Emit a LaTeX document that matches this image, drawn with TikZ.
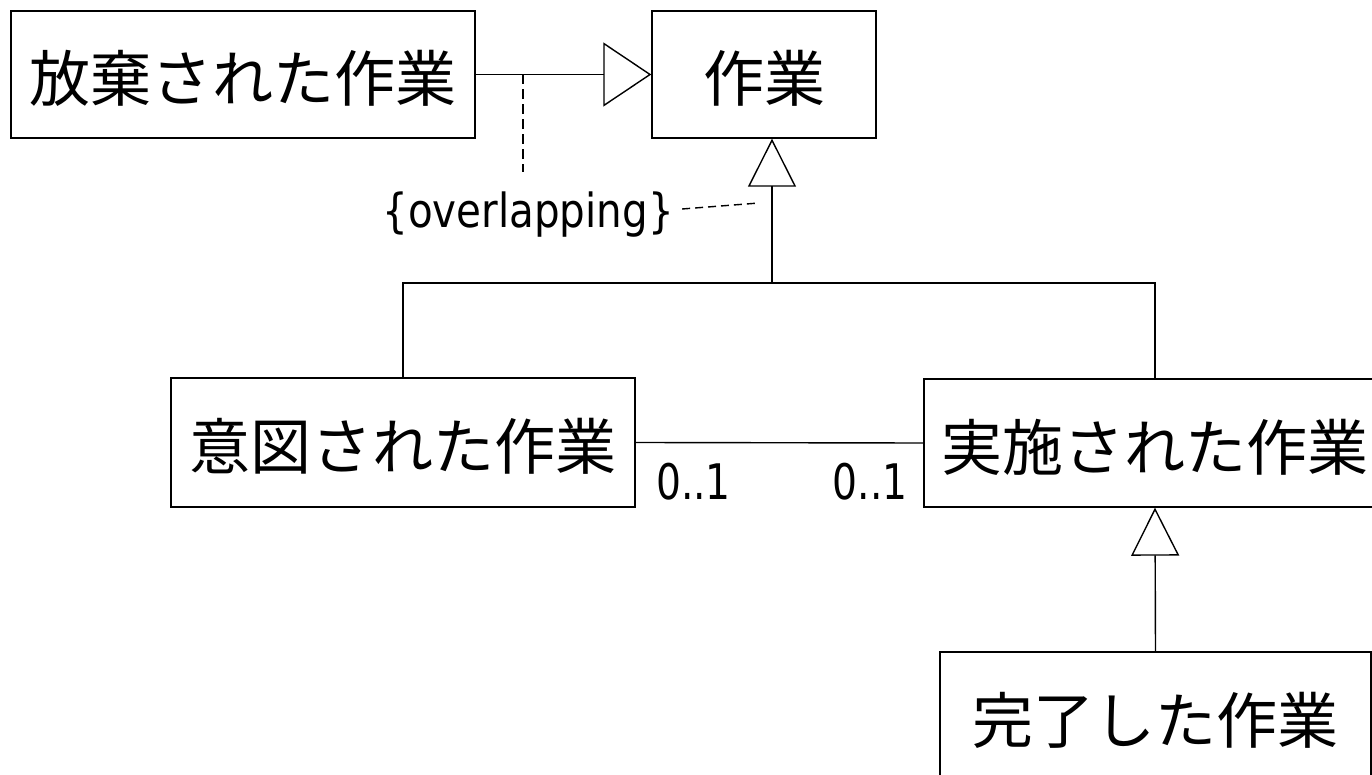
\documentclass[tikz,border=0pt]{standalone}
\usepackage{fontspec}
\setmainfont{Noto Sans CJK JP}
\newfontfamily\ovfont[FakeStretch=0.86]{DejaVu Sans}
\newfontfamily\multfont[FakeStretch=0.8]{DejaVu Sans}
\usetikzlibrary{arrows.meta}
\begin{document}
\begin{tikzpicture}[x=0.5pt,y=-0.5pt,
  cls/.style={draw,line width=0.7pt,inner sep=0pt,font=\fontsize{30.5}{30.5}\selectfont,text height=27.5pt,text depth=0pt},
  ovlbl/.style={inner sep=0pt,font=\ovfont\fontsize{23.5}{23.5}\selectfont},
  multlbl/.style={inner sep=0pt,font=\multfont\fontsize{24.5}{24.5}\selectfont},
  ln/.style={line width=0.7pt},
  genH/.style={line width=0.7pt,-{Triangle[open,length=24pt,width=32pt]}},
  genV/.style={line width=0.7pt,-{Triangle[open,length=24pt,width=24pt]}},
  dsh/.style={line width=0.7pt,dash pattern=on 5pt off 2.5pt},
  dshb/.style={line width=0.7pt,dash pattern=on 4pt off 2.5pt}]
\useasboundingbox (0,0) rectangle (1372,775);
\fill[white] (0,0) rectangle (1372,775);

\node[cls,minimum width=232pt,minimum height=63.5pt] (aband) at (243,74.5) {放棄された作業};
\node[cls,minimum width=112pt,minimum height=63.5pt] (work) at (764,74.5) {作業};
\node[cls,minimum width=232pt,minimum height=64.5pt] (intended) at (403,442.5) {意図された作業};
\node[cls,minimum width=231pt,minimum height=64pt] (performed) at (1155,443) {実施された作業};
\node[cls,minimum width=215.5pt,minimum height=64pt] (completed) at (1155.5,716) {完了した作業};

% abandoned -> work
\draw[genH] (aband.east) -- (work.west);
\coordinate (dtop) at (523,74.5);
\coordinate (dbot) at (523,172);
\draw[dsh] (dtop) -- (dbot);

% generalization set
\coordinate (bar) at (772,283);
\draw[genV] (bar) -- (bar |- work.south);
\draw[ln] (intended.north) |- (bar) -| (performed.north);

\node[ovlbl] (ov) at (528,215) {\{overlapping\}};
\coordinate (ovend) at (759,203);
\draw[dshb] ([shift={(4pt,3pt)}]ov.east) -- (ovend);

% association
\draw[ln] (intended.east) -- (performed.west);
\node[multlbl] (m1) at (693.5,481.5) {0..1};
\node[multlbl] (m2) at (870,481.5) {0..1};

% completed -> performed
\draw[genV] (completed.north) -- (performed.south);
\end{tikzpicture}
\end{document}
